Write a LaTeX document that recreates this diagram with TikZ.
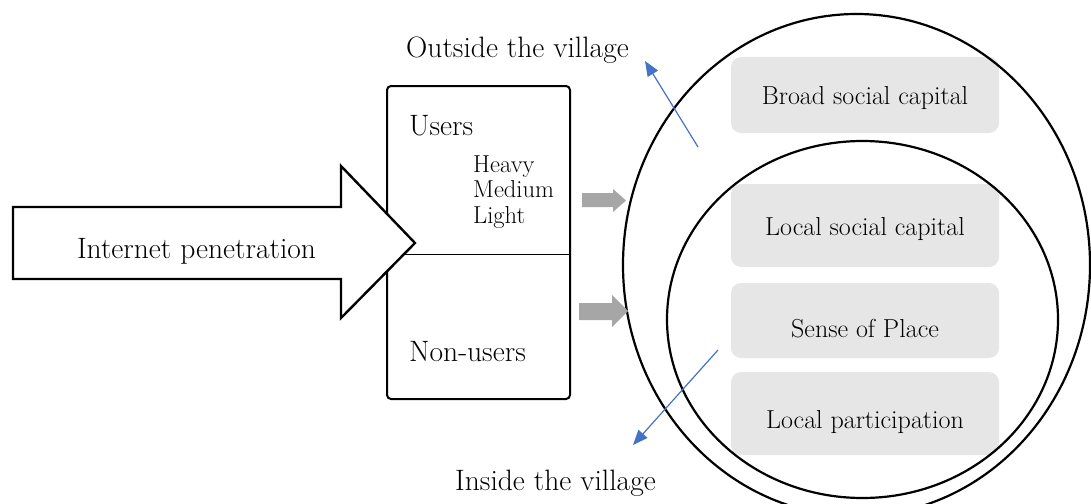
\documentclass[tikz,border=0pt]{standalone}
\usetikzlibrary{arrows.meta,shapes.geometric}
\definecolor{boxgray}{HTML}{E6E6E6}
\definecolor{arrgray}{HTML}{A6A6A6}
\definecolor{blueln}{HTML}{4472C4}
\tikzset{
  big/.style={font=\fontsize{29.5}{33}\selectfont, inner sep=0pt},
  small/.style={font=\fontsize{24.5}{28}\selectfont, inner sep=0pt, anchor=base west},
  gbox/.style={fill=boxgray, rounded corners=10pt, minimum width=268pt, inner sep=0pt},
  gtext/.style={font=\fontsize{26}{30}\selectfont, inner sep=0pt},
  garrow/.style={fill=arrgray, draw=none},
  blarrow/.style={draw=blueln, line width=1.2pt, -{Triangle[length=15pt,width=12pt]}},
  ring/.style={draw, ellipse, line width=2.2pt, inner sep=0pt, outer sep=0pt},
}
\begin{document}
\begin{tikzpicture}[x=1pt,y=-1pt]
\useasboundingbox (0,0) rectangle (1091,503);
% gray boxes
\node[gbox, minimum height=76pt] (broad) at (865,95) {};
\node[gbox, minimum height=83pt] (lsc) at (865,225.5) {};
\node[gbox, minimum height=75pt] (sop) at (865,320.5) {};
\node[gbox, minimum height=83pt] (lp) at (865,413.5) {};
\node[gtext] (broadt) at (865,98.5) {Broad social capital};
\node[gtext] (lsct) at (865,229.5) {Local social capital};
\node[gtext] (sopt) at (865,329) {Sense of Place};
\node[gtext] (lpt) at (865,422.5) {Local participation};
% ellipses
\node[ring, minimum width=467pt, minimum height=502pt] (outer) at (856.5,265) {};
\node[ring, minimum width=391pt, minimum height=357pt] (inner) at (862.5,319.5) {};
% users box
\draw[line width=2pt, rounded corners=4pt] (387,86) rectangle (570,399);
\coordinate (dl) at (387,254);
\coordinate (dr) at (570,254);
\draw[line width=1pt] (dl) -- (dr);
\node[big, anchor=base west] (users) at (409,135) {Users};
\node[small] (heavy) at (473,172) {Heavy};
\node[small] (medium) at (473,197.5) {Medium};
\node[small] (light) at (473,223) {Light};
\node[big, anchor=base west] (nonusers) at (409,361) {Non-users};
% big arrow
\draw[line width=2.4pt, fill=white, line join=miter]
  (13,207) -- (341,207) -- (341,166) -- (415,243) -- (341,318) -- (341,279) -- (13,279) -- cycle;
\node[big, anchor=base] (ip) at (196.5,258) {Internet penetration};
% gray arrows
\fill[garrow] (582,193) -- (613,193) -- (613,189) -- (626,200.5) -- (613,212) -- (613,207) -- (582,207) -- cycle;
\fill[garrow] (579,303) -- (612,303) -- (612,295) -- (628,311) -- (612,327) -- (612,320) -- (579,320) -- cycle;
% blue arrows and labels
\node[big, anchor=base west] (outside) at (406,57) {Outside the village};
\node[big, anchor=base west] (inside) at (455,490) {Inside the village};
\coordinate (u1) at (698,147);
\coordinate (u2) at (645,61);
\coordinate (d1) at (718,350);
\coordinate (d2) at (633,445);
\draw[blarrow] (u1) -- (u2);
\draw[blarrow] (d1) -- (d2);
\end{tikzpicture}
\end{document}
